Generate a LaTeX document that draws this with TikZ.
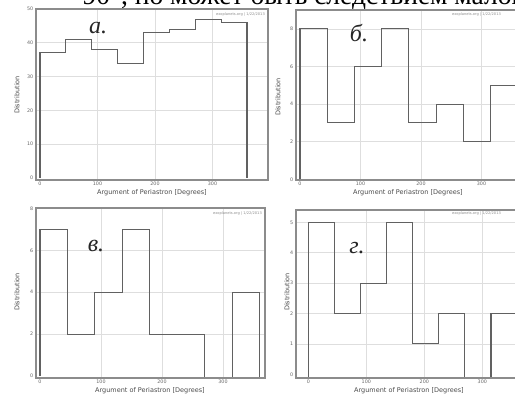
\documentclass[tikz,border=0pt]{standalone}
\usepackage{fontspec}
\setmainfont{Liberation Serif}
\newfontfamily\plotfont{DejaVu Sans}
\begin{document}
\begin{tikzpicture}[x=1pt,y=-1pt,
  framebox/.style={draw=black!45,line width=1.1pt},
  gridline/.style={draw=black!13,line width=0.6pt},
  histline/.style={draw=black!62,line width=1.1pt,line join=miter},
  ticklab/.style={font=\plotfont\fontsize{4.8}{5}\selectfont,text=black!60,inner sep=0.5pt},
  axlab/.style={font=\plotfont\fontsize{6.5}{7}\selectfont,text=black!70,inner sep=0pt},
  wmark/.style={font=\plotfont\fontsize{3.6}{4}\selectfont,text=black!45,inner sep=0pt},
  panlab/.style={font=\fontsize{24}{25}\selectfont\itshape,text=black!85,inner sep=0pt},
  toptext/.style={font=\fontsize{27.5}{29}\selectfont,inner sep=0pt}
]
\fill[white] (0,0) rectangle (515,396);

% top cropped line of text (only its lower part lies inside the page)
\begin{scope}
\clip (0,0) rectangle (515,396);
\node[toptext,anchor=base west] (top) at (60,4.5) {= 90°, но может быть следствием малой};
\end{scope}
\useasboundingbox (0,0) rectangle (515,396);

% ================= panel a =================
\foreach \gx in {97.5,155,212.5} \draw[gridline] (\gx,9) -- (\gx,180);
\foreach \gy in {144.2,110.4,76.6,42.8} \draw[gridline] (36,\gy) -- (268,\gy);
\draw[framebox] (36,9) rectangle (268,180);
\draw[histline] (40,178) -- (40,52.9) -- (65.9,52.9) -- (65.9,39.4) -- (91.75,39.4) -- (91.75,49.6)
  -- (117.6,49.6) -- (117.6,63.1) -- (143.5,63.1) -- (143.5,32.7) -- (169.4,32.7) -- (169.4,29.3)
  -- (195.25,29.3) -- (195.25,19.1) -- (221.1,19.1) -- (221.1,22.5) -- (247,22.5) -- (247,178);
\node[ticklab] (ax0) at (40,184) {0};
\node[ticklab] (ax1) at (97.5,184) {100};
\node[ticklab] (ax2) at (155,184) {200};
\node[ticklab] (ax3) at (212.5,184) {300};
\foreach \v/\yy in {0/178,10/144.2,20/110.4,30/76.6,40/42.8,50/9}
  \node[ticklab,anchor=east] at (34,\yy) {\v};
\node[axlab] (axl) at (152,193) {Argument of Periastron [Degrees]};
\node[axlab,rotate=90] (ayl) at (17,95) {Distribution};
\node[wmark,anchor=east] (awm) at (265,15) {exoplanets.org | 1/22/2013};
\node[panlab] (alab) at (98,28) {а.};

% ================= panel b =================
\foreach \gx in {360.5,421,481.5} \draw[gridline] (\gx,10) -- (\gx,180);
\foreach \gy in {141.7,104.1,66.5,28.9} \draw[gridline] (296,\gy) -- (520,\gy);
\draw[framebox] (296,10) rectangle (520,180);
\draw[histline] (300,179.3) -- (300,28.9) -- (327.2,28.9) -- (327.2,122.9) -- (354.5,122.9) -- (354.5,66.5)
  -- (381.7,66.5) -- (381.7,28.9) -- (408.9,28.9) -- (408.9,122.9) -- (436.1,122.9) -- (436.1,104.1)
  -- (463.4,104.1) -- (463.4,141.7) -- (490.6,141.7) -- (490.6,85.3) -- (517.8,85.3) -- (517.8,179.3);
\node[ticklab] (bx0) at (300,184) {0};
\node[ticklab] (bx1) at (360.5,184) {100};
\node[ticklab] (bx2) at (421,184) {200};
\node[ticklab] (bx3) at (481.5,184) {300};
\foreach \v/\yy in {0/179.3,2/141.7,4/104.1,6/66.5,8/28.9}
  \node[ticklab,anchor=east] at (294,\yy) {\v};
\node[axlab] (bxl) at (408,193) {Argument of Periastron [Degrees]};
\node[axlab,rotate=90] (byl) at (278,97) {Distribution};
\node[wmark,anchor=west] (bwm) at (452,15) {exoplanets.org | 1/22/2013};
\node[panlab] (blab) at (359,33) {б.};

% ================= panel v =================
\foreach \gx in {101,162,223} \draw[gridline] (\gx,208) -- (\gx,378);
\foreach \gy in {334.1,292.2,250.3} \draw[gridline] (36,\gy) -- (265,\gy);
\draw[framebox] (36,208) rectangle (265,378);
\draw[histline] (40,376) -- (40,229.4) -- (67.5,229.4) -- (67.5,334.1) -- (94.9,334.1) -- (94.9,292.2)
  -- (122.4,292.2) -- (122.4,229.4) -- (149.8,229.4) -- (149.8,334.1) -- (204.7,334.1) -- (204.7,377);
\draw[histline] (232.2,377) -- (232.2,292.2) -- (259.6,292.2) -- (259.6,377);
\node[ticklab] (vx0) at (40,382) {0};
\node[ticklab] (vx1) at (101,382) {100};
\node[ticklab] (vx2) at (162,382) {200};
\node[ticklab] (vx3) at (223,382) {300};
\foreach \v/\yy in {0/376,2/334.1,4/292.2,6/250.3,8/208.4}
  \node[ticklab,anchor=east] at (34,\yy) {\v};
\node[axlab] (vxl) at (150,391) {Argument of Periastron [Degrees]};
\node[axlab,rotate=90] (vyl) at (17,292) {Distribution};
\node[wmark,anchor=east] (vwm) at (262,214) {exoplanets.org | 1/22/2013};
\node[panlab] (vlab) at (96,246) {в.};

% ================= panel g =================
\foreach \gx in {366.3,424.3,482.3} \draw[gridline] (\gx,210) -- (\gx,378);
\foreach \gy in {343.9,313.5,283.1,252.7,222.3} \draw[gridline] (296,\gy) -- (520,\gy);
\draw[framebox] (296,210) rectangle (520,378);
\draw[histline] (308.3,377) -- (308.3,222.3) -- (334.4,222.3) -- (334.4,313.5) -- (360.5,313.5) -- (360.5,283.1)
  -- (386.6,283.1) -- (386.6,222.3) -- (412.7,222.3) -- (412.7,343.9) -- (438.8,343.9) -- (438.8,313.5)
  -- (464.9,313.5) -- (464.9,377);
\draw[histline] (491,377) -- (491,313.5) -- (517.1,313.5) -- (517.1,377);
\node[ticklab] (gx0) at (308.3,382) {0};
\node[ticklab] (gx1) at (366.3,382) {100};
\node[ticklab] (gx2) at (424.3,382) {200};
\node[ticklab] (gx3) at (482.3,382) {300};
\foreach \v/\yy in {0/374.3,1/343.9,2/313.5,3/283.1,4/252.7,5/222.3}
  \node[ticklab,anchor=east] at (294,\yy) {\v};
\node[axlab] (gxl) at (409,391) {Argument of Periastron [Degrees]};
\node[axlab,rotate=90] (gyl) at (287,292) {Distribution};
\node[wmark,anchor=west] (gwm) at (452,214) {exoplanets.org | 1/22/2013};
\node[panlab] (glab) at (357,248) {г.};
\end{tikzpicture}
\end{document}
